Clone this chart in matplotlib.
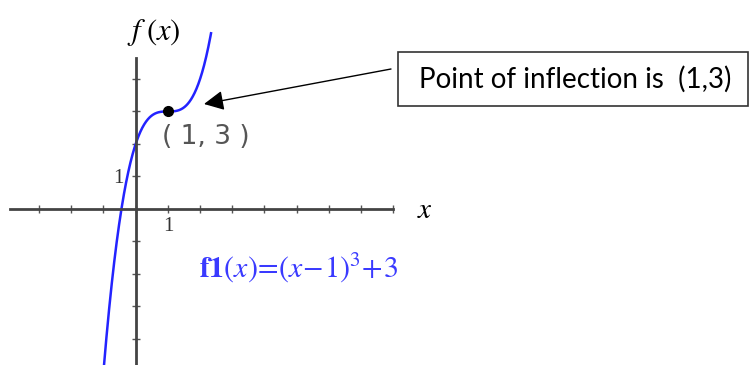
import matplotlib.pyplot as plt
import numpy as np

# curve f1(x) = (x-1)^3 + 3, shown between these x values
x_start, x_end = -1.0, 2.34
inflection = (1, 3)
x_ticks = [-3, -2, -1, 0, 1, 2, 3, 4, 5, 6, 7, 8]
y_ticks = [-4, -3, -2, -1, 1, 2, 3, 4]
x_tick_labels = ['' if t != 1 else '1' for t in x_ticks]
y_tick_labels = ['' if t != 1 else '1' for t in y_ticks]

plt.rcParams['mathtext.fontset'] = 'stix'

fig = plt.figure(figsize=(7.5, 3.65), dpi=100)
ax = fig.add_axes([0, 0, 1, 1])
ax.set_xlim(-4.214, 19.08)
ax.set_ylim(-4.8, 6.43)

x = np.linspace(x_start, x_end, 400)
ax.plot(x, (x - 1) ** 3 + 3, color='#2323ff', linewidth=1.8)
ax.plot(*inflection, 'o', color='black', markersize=7, zorder=5)

# axes through the origin
for side in ['top', 'right']:
    ax.spines[side].set_visible(False)
ax.spines['left'].set_position(('data', 0))
ax.spines['bottom'].set_position(('data', 0))
ax.spines['left'].set_bounds(-4.8, 4.65)
ax.spines['bottom'].set_bounds(-3.9, 7.98)
for side in ['left', 'bottom']:
    ax.spines[side].set_color('#444444')
    ax.spines[side].set_linewidth(2)
ax.set_xticks(x_ticks)
ax.set_xticklabels(x_tick_labels)
ax.set_yticks(y_ticks)
ax.set_yticklabels(y_tick_labels)
ax.tick_params(direction='inout', length=6, width=1, color='#555555',
               labelcolor='#333333', labelsize=15)
for lbl in ax.get_xticklabels() + ax.get_yticklabels():
    lbl.set_family('Liberation Serif')
ax.tick_params(axis='x', pad=3)
ax.tick_params(axis='y', pad=6)

ax.text(154, 333, r'$f\;(x)$', transform=None, fontsize=22,
        ha='center', va='center', color='black')
ax.text(425, 155, r'$x$', transform=None, fontsize=21,
        ha='center', va='center', color='black')
ax.text(206, 228, '( 1, 3 )', transform=None, fontsize=19,
        ha='center', va='center', color='#555555', family='DejaVu Sans')
ax.text(199, 97, r'$\mathbf{f1}(x)\!=\!(x\!-\!1)^3\!+\!3$', transform=None,
        fontsize=21.5, ha='left', va='center', color='#3a3aff')

fig.text(419 / 750, 1 - 79 / 365, 'Point of inflection is  (1,3)',
         fontsize=20, family='Lato', ha='left', va='center', color='black')
fig.patches.append(plt.Rectangle((398 / 750, 1 - 106 / 365), 350 / 750, 54 / 365,
                                 transform=fig.transFigure, fill=False,
                                 edgecolor='#333333', linewidth=1.2))
ax.annotate('', xy=(204, 261), xytext=(391, 296),
            xycoords='figure pixels', textcoords='figure pixels',
            arrowprops=dict(arrowstyle='-|>', color='black', lw=1,
                            mutation_scale=30, shrinkA=0, shrinkB=0))

fig.savefig('out.png', dpi=100)
